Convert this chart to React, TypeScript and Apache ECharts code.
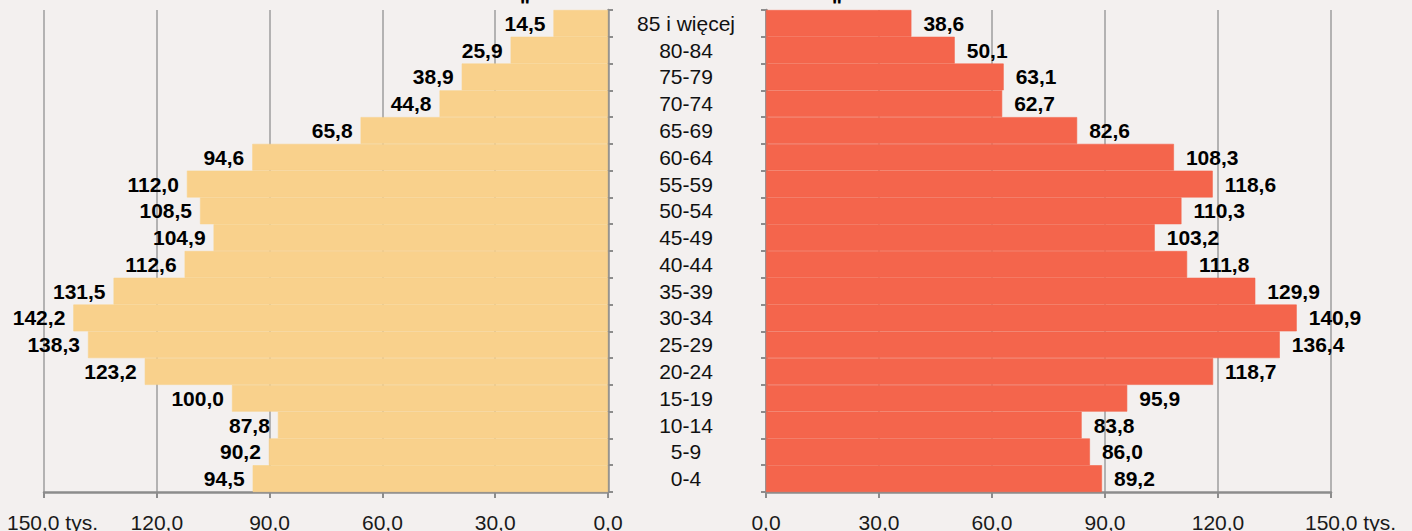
import React, { useEffect, useRef } from "react";
import * as echarts from "echarts";

// bottom (0-4) to top (85 i więcej)
const categories = [
  "0-4", "5-9", "10-14", "15-19", "20-24", "25-29", "30-34", "35-39", "40-44",
  "45-49", "50-54", "55-59", "60-64", "65-69", "70-74", "75-79", "80-84", "85 i więcej",
];
const leftValues = [
  94.5, 90.2, 87.8, 100.0, 123.2, 138.3, 142.2, 131.5, 112.6,
  104.9, 108.5, 112.0, 94.6, 65.8, 44.8, 38.9, 25.9, 14.5,
];
const rightValues = [
  89.2, 86.0, 83.8, 95.9, 118.7, 136.4, 140.9, 129.9, 111.8,
  103.2, 110.3, 118.6, 108.3, 82.6, 62.7, 63.1, 50.1, 38.6,
];
const axisMax = 150;
const axisInterval = 30;
const unitSuffix = " tys.";

const FONT = "'Liberation Sans', Arial, sans-serif";
const BG = "#f3f0ef";
const AXIS = "#8c8c8c";
const GRID = "#a3a3a3";
const LEFT_COLOR = "#f9d18c";
const RIGHT_COLOR = "#f4654c";

const fmt = (v: number) => v.toFixed(1).replace(".", ",");

export default function App() {
  const ref = useRef<HTMLDivElement>(null);
  useEffect(() => {
    if (!ref.current) return;
    const chart = echarts.init(ref.current, undefined, { renderer: "svg" });
    const tickLabel = (spacer: string) => ({
      fontFamily: FONT,
      fontSize: 21,
      color: "#1a1a1a",
      margin: 20,
      formatter: (v: number) =>
        v === axisMax ? `{${spacer}| }${fmt(v)}${unitSuffix}` : fmt(v),
      rich: {
        sl: { width: 17, fontSize: 21, fontFamily: FONT },
        sr: { width: 39, fontSize: 21, fontFamily: FONT },
      },
    });
    const xCommon = {
      type: "value" as const,
      min: 0,
      max: axisMax,
      interval: axisInterval,
      axisLine: { show: true, lineStyle: { color: AXIS, width: 2.5 } },
      axisTick: { show: true, length: 6, lineStyle: { color: AXIS, width: 2 } },
      splitLine: { show: true, lineStyle: { color: GRID, width: 1.6 } },
    };
    const yCommon = {
      type: "category" as const,
      data: categories,
      axisLine: { show: true, lineStyle: { color: AXIS, width: 2.5 } },
      axisTick: { show: true, length: 5, interval: 0, lineStyle: { color: AXIS, width: 2 } },
    };
    const labelStyle = {
      show: true,
      fontFamily: FONT,
      fontSize: 21,
      fontWeight: "bold" as const,
      color: "#000",
      formatter: (p: any) => fmt(p.value),
    };
    const quote = (x: number) => ({
      type: "text",
      x,
      y: 5,
      style: {
        text: '"',
        fontFamily: FONT,
        fontSize: 22,
        fontWeight: "bold",
        fill: "#000",
        align: "center",
        verticalAlign: "middle",
      },
    });
    chart.setOption({
      animation: false,
      backgroundColor: BG,
      textStyle: { fontFamily: FONT },
      grid: [
        { left: 44, width: 564, top: 10, height: 482, outerBoundsMode: "none", containLabel: false },
        { left: 766, width: 565, top: 10, height: 482, outerBoundsMode: "none", containLabel: false },
      ],
      xAxis: [
        { ...xCommon, gridIndex: 0, inverse: true, axisLabel: tickLabel("sl") },
        { ...xCommon, gridIndex: 1, axisLabel: tickLabel("sr") },
      ],
      yAxis: [
        { ...yCommon, gridIndex: 0, position: "right", axisLabel: { show: false } },
        {
          ...yCommon,
          gridIndex: 1,
          position: "left",
          axisLabel: {
            show: true,
            interval: 0,
            align: "center",
            margin: 80,
            fontFamily: FONT,
            fontSize: 21,
            color: "#111",
          },
        },
      ],
      series: [
        {
          type: "bar",
          xAxisIndex: 0,
          yAxisIndex: 0,
          data: leftValues,
          barCategoryGap: "0%",
          itemStyle: { color: LEFT_COLOR, borderColor: LEFT_COLOR, borderWidth: 0.6 },
          label: { ...labelStyle, position: "left", distance: 8 },
        },
        {
          type: "bar",
          xAxisIndex: 1,
          yAxisIndex: 1,
          data: rightValues,
          barCategoryGap: "0%",
          itemStyle: { color: RIGHT_COLOR, borderColor: RIGHT_COLOR, borderWidth: 0.6 },
          label: { ...labelStyle, position: "right", distance: 12 },
        },
      ],
      graphic: [quote(525), quote(837)],
    });
    return () => chart.dispose();
  }, []);
  return (
    <div
      ref={ref}
      style={{ position: "fixed", left: 0, top: 0, width: 1412, height: 531, background: BG }}
    />
  );
}
